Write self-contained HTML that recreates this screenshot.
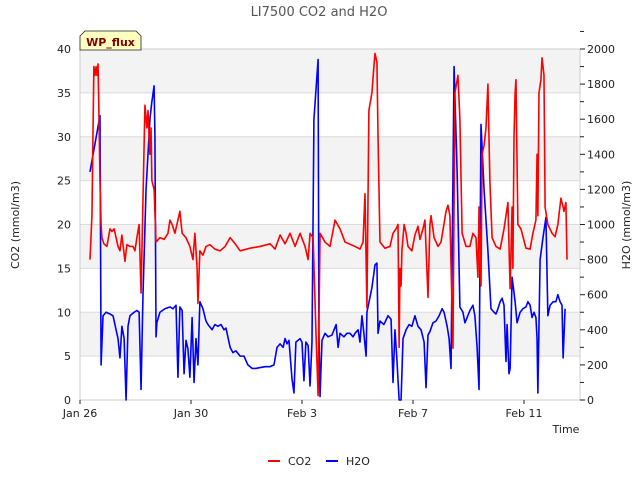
<!DOCTYPE html>
<html><head><meta charset="utf-8"><style>
body{margin:0;background:#fff;}
svg{display:block;font-family:"DejaVu Sans","Liberation Sans",sans-serif;}
</style></head><body>
<svg id="chart" width="640" height="480">
<rect x="0" y="0" width="640" height="480" fill="#fff"/>
<text x="319" y="16" text-anchor="middle" font-size="13" fill="#555">LI7500 CO2 and H2O</text>
<g id="bands"></g>
<g id="axes"></g>
<g id="series"></g>
<text transform="translate(19,225) rotate(-90)" text-anchor="middle" font-size="11" fill="#222">CO2 (mmol/m3)</text>
<text transform="translate(630,225) rotate(-90)" text-anchor="middle" font-size="11" fill="#222">H2O (mmol/m3)</text>
<text x="566" y="433" text-anchor="middle" font-size="11" fill="#222">Time</text>
<g>
<path d="M80,50 L80,36 L85,31 L136,31 L141,36 L141,50 Z" fill="#ffffc0" stroke="#222" stroke-width="0.8"/>
<text x="110.5" y="46" text-anchor="middle" font-size="11" font-weight="bold" fill="#800000">WP_flux</text>
</g>
<g>
<g><line x1="268" y1="461" x2="280" y2="461" stroke="red" stroke-width="2"/><text x="288" y="465" font-size="11" fill="#222">CO2</text></g>
<g><line x1="326" y1="461" x2="338" y2="461" stroke="blue" stroke-width="2"/><text x="346" y="465" font-size="11" fill="#222">H2O</text></g>
</g>
</svg>
<script>
const leftTicks=[0,5,10,15,20,25,30,35,40];
const rightTicks=[0,200,400,600,800,1000,1200,1400,1600,1800,2000];
const xTickDays=[0,4,8,12,16];
const xTickLabels=["Jan 26","Jan 30","Feb 3","Feb 7","Feb 11"];
const co2Days=[0.36,0.43,0.50,0.54,0.58,0.61,0.65,0.68,0.72,0.76,0.79,0.86,0.97,1.08,1.15,1.23,1.30,1.37,1.44,1.51,1.62,1.69,1.80,1.91,1.98,2.05,2.13,2.20,2.34,2.41,2.45,2.52,2.56,2.59,2.67,2.74,2.88,3.03,3.17,3.24,3.32,3.42,3.60,3.68,3.82,3.96,4.07,4.14,4.22,4.25,4.32,4.43,4.54,4.68,4.86,5.05,5.23,5.41,5.59,5.77,6.13,6.49,6.85,7.03,7.21,7.39,7.57,7.75,7.93,8.11,8.22,8.29,8.40,8.50,8.58,8.65,8.83,9.01,9.19,9.37,9.55,9.91,10.09,10.20,10.27,10.34,10.41,10.52,10.59,10.63,10.70,10.74,10.81,10.99,11.17,11.28,11.39,11.46,11.50,11.53,11.57,11.60,11.68,11.75,11.82,11.96,12.07,12.18,12.25,12.36,12.43,12.54,12.61,12.65,12.76,12.90,13.01,13.19,13.26,13.33,13.44,13.51,13.62,13.69,13.77,13.91,14.05,14.16,14.27,14.34,14.38,14.45,14.49,14.56,14.63,14.70,14.77,14.85,14.99,15.14,15.28,15.35,15.42,15.50,15.57,15.60,15.64,15.68,15.71,15.78,15.89,16.07,16.22,16.32,16.43,16.47,16.50,16.54,16.61,16.65,16.72,16.76,16.86,17.01,17.12,17.22,17.33,17.41,17.44,17.51,17.55];
const co2Values=[16,21,38,37,38,37,38.3,33,25,20,18.5,17.8,17.5,19.5,19.2,19.5,18.5,17.5,17,18.8,15.8,17.7,17.5,17.5,17,18.5,20,12.2,33.6,31,33,28,31,25,24,18,18.5,18.3,19,20.5,20,19,21.5,19,18.5,17.5,16,19,15,11,17,16.5,17.5,17.7,17.2,17,17.5,18.5,17.8,17,17.3,17.5,17.8,17.2,18.8,17.8,19,17.5,19,17.5,16,19,18.5,8,0.5,19,18,17.5,20.5,19.5,18,17.5,17.2,18,23.5,10.5,33,35,38,39.5,38.5,30,18,17.3,17.5,19,19.5,20,6,15,13,17,20,19,17.5,17,18.8,19.8,18.3,19.5,20.5,11.7,20,21,18.5,17.5,18,21.5,22.2,21,5.9,35,37,32,19,17.5,17.5,19,18.5,14,22,13,28,29,31,36,25,18.5,17.5,17.2,19.5,21,22.5,12.7,22,15,30,35,36.5,20,19.5,17.3,17.2,19,20.5,28,21,35,36.5,39,37,22,20,19,18.6,20,23,22,21.5,22.5,16];
const h2oDays=[0.36,0.72,0.76,0.83,0.94,1.08,1.19,1.30,1.37,1.44,1.51,1.59,1.66,1.73,1.80,1.95,2.05,2.13,2.20,2.27,2.38,2.52,2.59,2.67,2.70,2.74,2.77,2.88,3.06,3.24,3.35,3.46,3.53,3.60,3.68,3.75,3.82,3.89,3.96,4.04,4.11,4.18,4.25,4.32,4.43,4.54,4.61,4.76,4.86,4.97,5.08,5.19,5.26,5.41,5.51,5.62,5.77,5.91,6.05,6.20,6.34,6.49,6.67,6.85,6.99,7.10,7.21,7.32,7.39,7.46,7.53,7.64,7.71,7.78,7.93,8.00,8.07,8.14,8.22,8.29,8.36,8.43,8.58,8.61,8.65,8.72,8.83,8.94,9.08,9.23,9.30,9.37,9.51,9.62,9.73,9.84,9.91,10.02,10.09,10.16,10.23,10.31,10.34,10.52,10.63,10.70,10.74,10.81,10.95,11.10,11.21,11.28,11.35,11.42,11.50,11.57,11.64,11.75,11.86,11.96,12.07,12.18,12.29,12.40,12.47,12.54,12.61,12.72,12.83,12.94,13.05,13.12,13.23,13.30,13.37,13.48,13.59,13.69,13.80,13.87,13.95,14.05,14.16,14.23,14.31,14.38,14.45,14.56,14.70,14.81,14.92,14.99,15.06,15.14,15.21,15.28,15.35,15.39,15.46,15.50,15.57,15.68,15.75,15.86,15.96,16.07,16.14,16.22,16.29,16.36,16.43,16.47,16.50,16.58,16.68,16.79,16.86,16.94,17.05,17.15,17.22,17.30,17.37,17.41,17.48];
const h2oValues=[1300,1620,200,480,500,490,480,400,350,240,420,350,0,420,480,500,510,500,60,600,1200,1600,1700,1790,1500,360,440,500,520,530,520,540,130,530,510,150,340,290,130,470,100,350,200,560,520,450,430,400,430,420,430,400,410,300,270,280,250,250,200,180,180,185,190,190,200,300,320,300,350,320,340,120,40,330,350,330,110,330,310,80,330,1600,1940,400,20,340,380,360,370,430,300,380,360,380,380,360,380,400,330,480,380,250,500,640,770,780,380,450,430,480,460,100,400,230,0,0,350,400,430,420,480,420,400,330,70,370,390,440,450,480,520,500,420,350,180,1900,1300,530,500,440,470,510,540,480,300,60,1570,1200,850,520,500,490,520,560,580,540,220,430,150,180,700,560,440,500,520,530,560,540,470,500,470,350,40,800,920,1040,480,540,560,560,600,560,540,240,520];

const X0=80,X1=580,Y0=400,Y1=49,PXDAY=27.75;
const xs=d=>X0+d*PXDAY;
const yl=v=>Y0-(v/40)*(Y0-Y1);
const yr=v=>Y0-(v/2000)*(Y0-Y1);
const NS="http://www.w3.org/2000/svg";
function mk(tag,attrs,parent){const e=document.createElementNS(NS,tag);for(const k in attrs)e.setAttribute(k,attrs[k]);parent.appendChild(e);return e;}
const bands=document.getElementById('bands'),axes=document.getElementById('axes'),series=document.getElementById('series');
const plotBg=mk('rect',{x:X0,y:Y1,width:X1-X0,height:Y0-Y1,fill:'#fff'},bands);


for(let i=0;i<leftTicks.length-1;i++){
  if(i%2===1){const b=mk('rect',{x:X0,y:yl(leftTicks[i+1]),width:X1-X0,height:yl(leftTicks[i])-yl(leftTicks[i+1]),fill:'#f3f3f3'},bands);
  
  }
}
leftTicks.forEach(v=>{
  const g=mk('line',{x1:X0,x2:X1,y1:yl(v),y2:yl(v),stroke:'#dcdcdc','stroke-width':1},bands);
  
  
  const t=mk('text',{x:X0-9,y:yl(v)+4,'text-anchor':'end','font-size':11,fill:'#222'},axes);t.textContent=v;
  
  
});
mk('rect',{x:X0,y:Y1,width:X1-X0,height:Y0-Y1,fill:'none',stroke:'#ccc'},axes);
rightTicks.forEach(v=>{
  mk('line',{x1:X1,x2:X1+5,y1:yr(v),y2:yr(v),stroke:'#222'},axes);
  mk('line',{x1:X1,x2:X1+4,y1:yr(v+100),y2:yr(v+100),stroke:'#222'},axes);
  const t=mk('text',{x:X1+7,y:yr(v)+4,'font-size':11,fill:'#222'},axes);t.textContent=v;
  
  
});
xTickDays.forEach((d,i)=>{
  mk('line',{x1:xs(d),x2:xs(d),y1:Y0,y2:Y0+4,stroke:'#222'},axes);
  const t=mk('text',{x:xs(d),y:Y0+17,'text-anchor':'middle','font-size':11,fill:'#222'},axes);t.textContent=xTickLabels[i];
  
  
});
const h=mk('polyline',{points:h2oDays.map((d,i)=>xs(d)+','+yr(h2oValues[i])).join(' '),fill:'none',stroke:'blue','stroke-width':1.6,'stroke-linejoin':'round'},series);


const c=mk('polyline',{points:co2Days.map((d,i)=>xs(d)+','+yl(co2Values[i])).join(' '),fill:'none',stroke:'red','stroke-width':1.6,'stroke-linejoin':'round'},series);


</script>
</body></html>
